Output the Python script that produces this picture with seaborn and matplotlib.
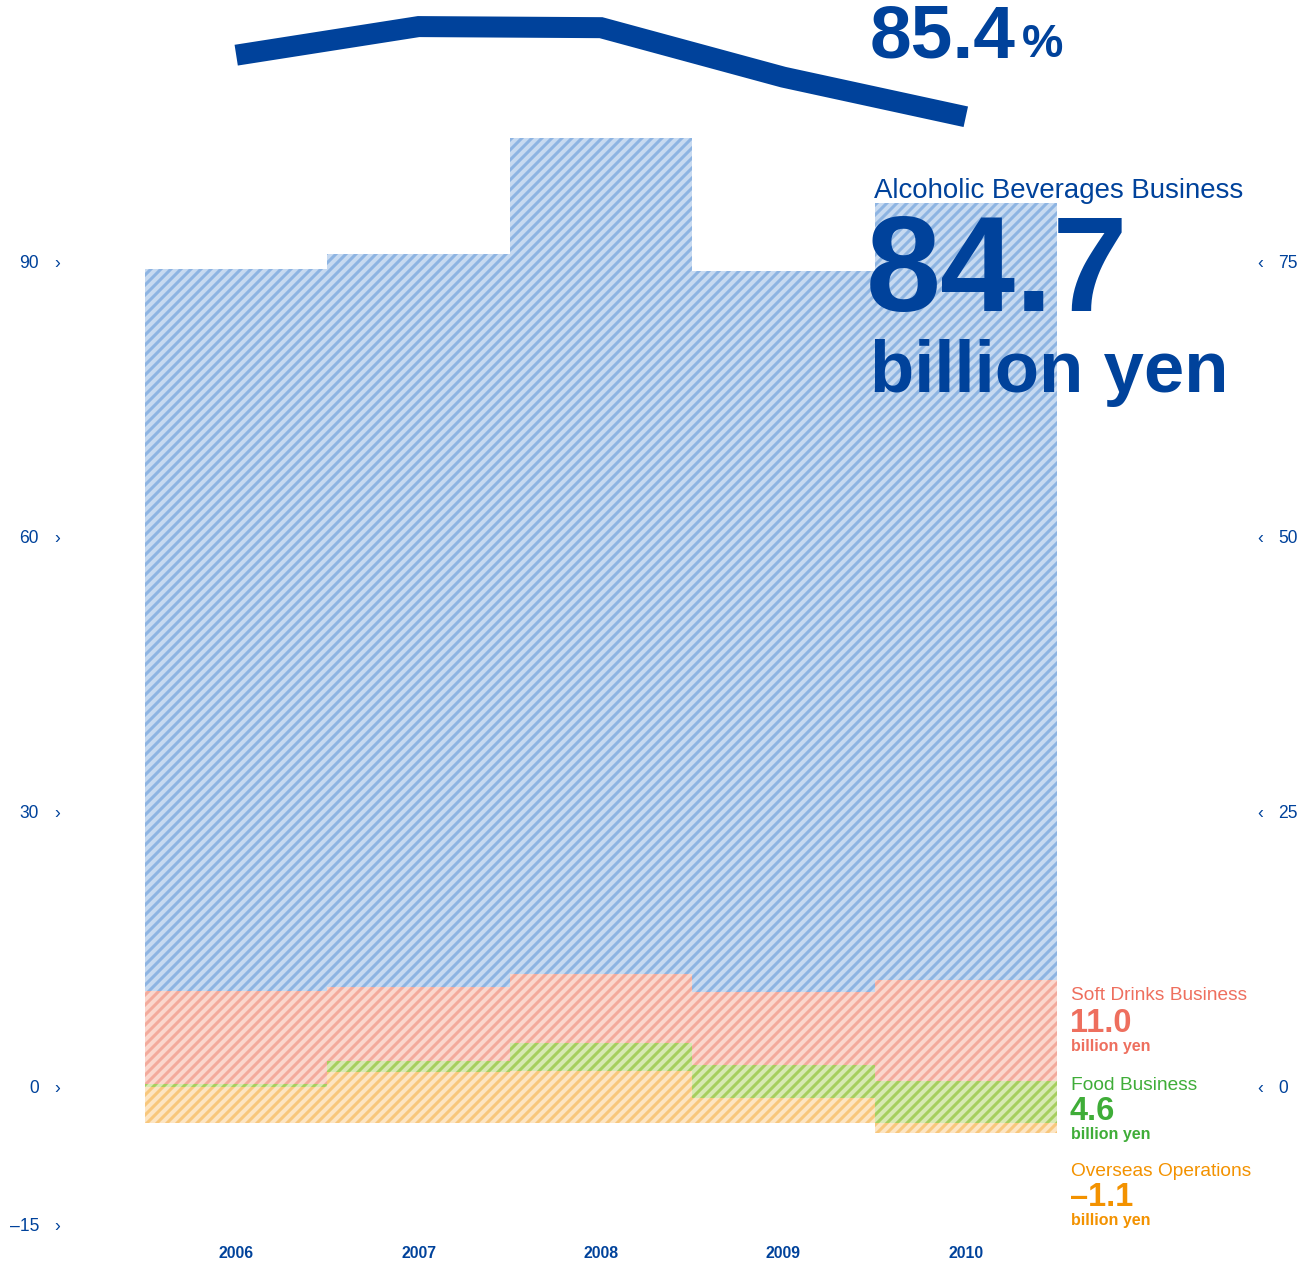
import numpy as np
import matplotlib
matplotlib.use("Agg")
import matplotlib.pyplot as plt
from matplotlib.transforms import blended_transform_factory
import seaborn as sns

# Operating income by segment (billion yen)
years = [2006, 2007, 2008, 2009, 2010]
alcoholic = [78.7, 80.0, 91.2, 78.6, 84.7]
soft_drinks = [10.2, 8.1, 7.5, 8.0, 11.0]
food = [0.3, 1.2, 3.0, 3.6, 4.6]
overseas = [3.9, 5.5, 5.7, 2.7, -1.1]
adjustments = [-3.7, -3.7, -3.7, -3.7, -3.7]

# Alcoholic beverages share of operating income (%)
alcoholic_share = [91.0, 93.6, 93.5, 89.0, 85.4]

left_ticks = [-15, 0, 30, 60, 90]
right_ticks = [0, 25, 50, 75]

NAVY = "#00429b"
SEGMENTS = [
    ("overseas", "#fde5c3", "#f8c77c"),
    ("food", "#d8e9b3", "#a6cf5e"),
    ("soft", "#fbd7cd", "#f3aa9c"),
    ("alcoholic", "#c7daf1", "#8db4e2"),
]
SOFT_C, FOOD_C, OVER_C = "#ee6f5e", "#3fad38", "#f39200"

sns.set_theme(style="white")
plt.rcParams["font.family"] = ["Liberation Sans", "DejaVu Sans"]
plt.rcParams["hatch.linewidth"] = 1.8

W, H, DPI = 1312, 1263, 120
fig = plt.figure(figsize=(W / DPI, H / DPI), dpi=DPI)
fig.patch.set_facecolor("white")


def fx(px):
    return px / W


def fy(py):
    return 1 - py / H


# main axes: x 145..1057 px, y from -15 (1226.5 px) upward at 9.167 px per unit
y_lo, y_hi = -15, 118
ax = fig.add_axes([fx(145), fy(1226.5), (1057 - 145) / W, (y_hi - y_lo) * 9.1667 / H])
ax.set_xlim(2005.5, 2010.5)
ax.set_ylim(y_lo, y_hi)
ax.axis("off")

# stacked step areas
base = np.array(adjustments, dtype=float)
ov = np.array(overseas, dtype=float)
ov_lo = base + np.minimum(ov, 0)
ov_hi = base + np.maximum(ov, 0)
food_hi = ov_hi + np.array(food)
soft_hi = food_hi + np.array(soft_drinks)
alc_hi = soft_hi + np.array(alcoholic)
layers = [(ov_lo, ov_hi), (ov_hi, food_hi), (food_hi, soft_hi), (soft_hi, alc_hi)]

edges = np.append(np.array(years) - 0.5, years[-1] + 0.5)
for (lo, hi), (_, face, hatch_c) in zip(layers, SEGMENTS):
    ax.fill_between(edges, np.append(lo, lo[-1]), np.append(hi, hi[-1]),
                    step="post", facecolor=face, edgecolor=hatch_c,
                    hatch="////", linewidth=0, zorder=1)

# share line on its own scale
ax3 = ax.twinx()
ax3.set_ylim(-15.5, 95.35)
ax3.axis("off")
sns.lineplot(x=years, y=alcoholic_share, ax=ax3, color=NAVY, linewidth=12.6,
             solid_capstyle="butt", solid_joinstyle="miter", zorder=3)

# axis labels with chevrons
tl = blended_transform_factory(fig.transFigure, ax.transData)
for v in left_ticks:
    lab = f"{v}".replace("-", "\u2013")
    ax.text(fx(39), v, lab, transform=tl, ha="right", va="center",
            fontsize=10.5, color=NAVY)
    ax.text(fx(57), v, "\u203a", transform=tl, ha="center", va="center",
            fontsize=10.5, color=NAVY)

right_scale = 75 / 90
for v in right_ticks:
    yv = v / right_scale
    ax.text(fx(1260), yv, "\u2039", transform=tl, ha="center", va="center",
            fontsize=10.5, color=NAVY)
    ax.text(fx(1278), yv, f"{v}", transform=tl, ha="left", va="center",
            fontsize=10.5, color=NAVY)

tx = blended_transform_factory(ax.transData, fig.transFigure)
for yr in years:
    ax.text(yr, fy(1254), str(yr), transform=tx, ha="center", va="center",
            fontsize=9.5, fontweight="bold", color=NAVY)

# headline annotations
fig.text(fx(870), fy(57), "85.4", fontsize=45, fontweight="bold", color=NAVY,
         ha="left", va="baseline")
fig.text(fx(1022), fy(57), "%", fontsize=28, fontweight="bold", color=NAVY,
         ha="left", va="baseline")
fig.text(fx(874), fy(198), "Alcoholic Beverages Business", fontsize=16.6,
         color=NAVY, ha="left", va="baseline", zorder=5)
fig.text(fx(866), fy(311), "84.7", fontsize=81, fontweight="bold", color=NAVY,
         ha="left", va="baseline", zorder=5)
fig.text(fx(870), fy(392), "billion yen", fontsize=43.5, fontweight="bold",
         color=NAVY, ha="left", va="baseline", zorder=5)

# segment callouts
callouts = [
    ("Soft Drinks Business", f"{soft_drinks[-1]:.1f}", SOFT_C, 1000.5, 1031.5, 1051),
    ("Food Business", f"{food[-1]:.1f}", FOOD_C, 1089.5, 1119.5, 1139),
    ("Overseas Operations", f"{overseas[-1]:.1f}".replace("-", "\u2013"), OVER_C,
     1175.5, 1206, 1225),
]
for title, val, col, y1, y2, y3 in callouts:
    fig.text(fx(1071), fy(y1), title, fontsize=11.5, color=col,
             ha="left", va="baseline")
    fig.text(fx(1070), fy(y2), val, fontsize=19.5, fontweight="bold", color=col,
             ha="left", va="baseline")
    fig.text(fx(1071), fy(y3), "billion yen", fontsize=9.6, fontweight="bold",
             color=col, ha="left", va="baseline")

fig.savefig("out.png", dpi=DPI, facecolor="white")
